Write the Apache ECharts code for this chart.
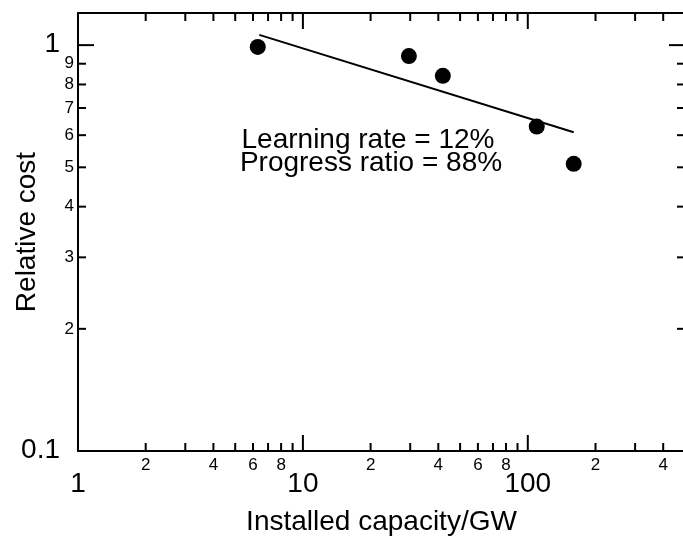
<!DOCTYPE html>
<html style="height: 100%">
<head>
<meta charset="UTF-8">
<title>Learning curve</title>
<script src="https://cdn.jsdelivr.net/npm/echarts@6/dist/echarts.min.js"></script>
</head>
<body style="height: 100%; margin: 0; background: #fff">
<div id="container" style="width: 683px; height: 538px"></div>
<script type="text/javascript">
var dom = document.getElementById("container");
var myChart = echarts.init(dom);

// data points
var capacity = [6.3, 29.6, 41.9, 109.6, 160];
var relCost = [0.99, 0.94, 0.84, 0.63, 0.51];
// fitted learning line, end points
var fitX = [6.4, 160];
var fitY = [1.06, 0.61];

// axis ranges
var xRange = [1, 500];
var yRange = [0.1, 1.2];

// tick positions and labels
var xMajorTicks = [1, 10, 100];
var xMajorLabels = ['1', '10', '100'];
var xMinorTicks = [2, 3, 4, 5, 6, 7, 8, 9, 20, 30, 40, 50, 60, 70, 80, 90, 200, 300, 400];
var xMinorLabels = {2: '2', 4: '4', 6: '6', 8: '8', 20: '2', 40: '4', 60: '6', 80: '8', 200: '2', 400: '4'};
var yMajorTicks = [0.1, 1];
var yMajorLabels = ['0.1', '1'];
var yMinorTicks = [0.2, 0.3, 0.4, 0.5, 0.6, 0.7, 0.8, 0.9];
var yMinorLabels = ['2', '3', '4', '5', '6', '7', '8', '9'];

var FONT = "'Liberation Sans', Arial, Helvetica, sans-serif";
var MAJOR_LEN = 16, MINOR_LEN = 8;

// build tick tables: [x, y, isMajor]
var xTickData = [];
xMajorTicks.forEach(function (v) { xTickData.push([v, yRange[0], 1]); });
xMinorTicks.forEach(function (v) { xTickData.push([v, yRange[0], 0]); });
var yTickData = [];
yMajorTicks.forEach(function (v) { yTickData.push([xRange[0], v, 1]); });
yMinorTicks.forEach(function (v) { yTickData.push([xRange[0], v, 0]); });

function xTickLabel(v, major) {
    if (major) return xMajorLabels[xMajorTicks.indexOf(v)];
    return xMinorLabels[v] || '';
}
function yTickLabel(v, major) {
    if (major) return yMajorLabels[yMajorTicks.indexOf(v)];
    return yMinorLabels[yMinorTicks.indexOf(v)];
}

function renderXTick(params, api) {
    var v = api.value(0);
    var major = api.value(2) === 1;
    var len = major ? MAJOR_LEN : MINOR_LEN;
    var b = api.coord([v, yRange[0]]);
    var t = api.coord([v, yRange[1]]);
    var style = {stroke: '#000', lineWidth: 2};
    var children = [
        {type: 'line', shape: {x1: b[0], y1: b[1], x2: b[0], y2: b[1] - len}, style: style},
        {type: 'line', shape: {x1: t[0], y1: t[1], x2: t[0], y2: t[1] + len}, style: style}
    ];
    var txt = xTickLabel(v, major);
    if (txt) {
        children.push({
            type: 'text',
            style: {
                text: txt, x: b[0], y: b[1] + (major ? 33 : 14),
                align: 'center', verticalAlign: 'middle',
                font: (major ? '28px ' : '17px ') + FONT, fill: '#000'
            }
        });
    }
    return {type: 'group', children: children};
}

function renderYTick(params, api) {
    var v = api.value(1);
    var major = api.value(2) === 1;
    var len = major ? MAJOR_LEN : MINOR_LEN;
    var l = api.coord([xRange[0], v]);
    var r = api.coord([xRange[1], v]);
    var style = {stroke: '#000', lineWidth: 2};
    var children = [
        {type: 'line', shape: {x1: l[0], y1: l[1], x2: l[0] + len, y2: l[1]}, style: style},
        {type: 'line', shape: {x1: r[0], y1: r[1], x2: r[0] - len, y2: r[1]}, style: style}
    ];
    children.push({
        type: 'text',
        style: {
            text: yTickLabel(v, major), x: l[0] - (major ? 18 : 4), y: l[1] + (major ? -1 : 0),
            align: 'right', verticalAlign: 'middle',
            font: (major ? '28px ' : '17px ') + FONT, fill: '#000'
        }
    });
    return {type: 'group', children: children};
}

var axisCommon = {
    type: 'log',
    logBase: 10,
    axisLine: {show: true, lineStyle: {color: '#000', width: 2}},
    axisTick: {show: false},
    axisLabel: {show: false},
    splitLine: {show: false},
    minorTick: {show: false}
};

var option = {
    animation: false,
    backgroundColor: '#fff',
    textStyle: {fontFamily: FONT},
    grid: {left: 78, top: 13, right: -2, bottom: 87, containLabel: false, outerBoundsMode: 'none'},
    xAxis: [
        echarts.util.extend({
            min: xRange[0], max: xRange[1], position: 'bottom',
            name: 'Installed capacity/GW', nameLocation: 'middle', nameGap: 57,
            nameTextStyle: {fontSize: 28, color: '#000', fontFamily: FONT}
        }, axisCommon),
        echarts.util.extend({min: xRange[0], max: xRange[1], position: 'top'}, axisCommon)
    ],
    yAxis: [
        echarts.util.extend({
            min: yRange[0], max: yRange[1], position: 'left',
            name: 'Relative cost', nameLocation: 'middle', nameGap: 37,
            nameTextStyle: {fontSize: 28, color: '#000', fontFamily: FONT}
        }, axisCommon),
        echarts.util.extend({min: yRange[0], max: yRange[1], position: 'right'}, axisCommon)
    ],
    graphic: [
        {type: 'text', style: {
            text: 'Learning rate = 12%', x: 368, y: 154, align: 'center', verticalAlign: 'bottom',
            font: '28px ' + FONT, fill: '#000'}},
        {type: 'text', style: {
            text: 'Progress ratio = 88%', x: 371, y: 177, align: 'center', verticalAlign: 'bottom',
            font: '28px ' + FONT, fill: '#000'}}
    ],
    series: [
        {
            type: 'custom', clip: false, silent: true,
            renderItem: renderXTick, data: xTickData, z: 1
        },
        {
            type: 'custom', clip: false, silent: true,
            renderItem: renderYTick, data: yTickData, z: 1
        },
        {
            type: 'line', showSymbol: false, silent: true,
            lineStyle: {color: '#000', width: 2},
            data: fitX.map(function (x, i) { return [x, fitY[i]]; }),
            z: 2
        },
        {
            type: 'scatter', symbol: 'circle', symbolSize: 16,
            itemStyle: {color: '#000', opacity: 1},
            data: capacity.map(function (x, i) { return [x, relCost[i]]; }),
            z: 3
        }
    ]
};

myChart.setOption(option);
</script>
</body>
</html>
